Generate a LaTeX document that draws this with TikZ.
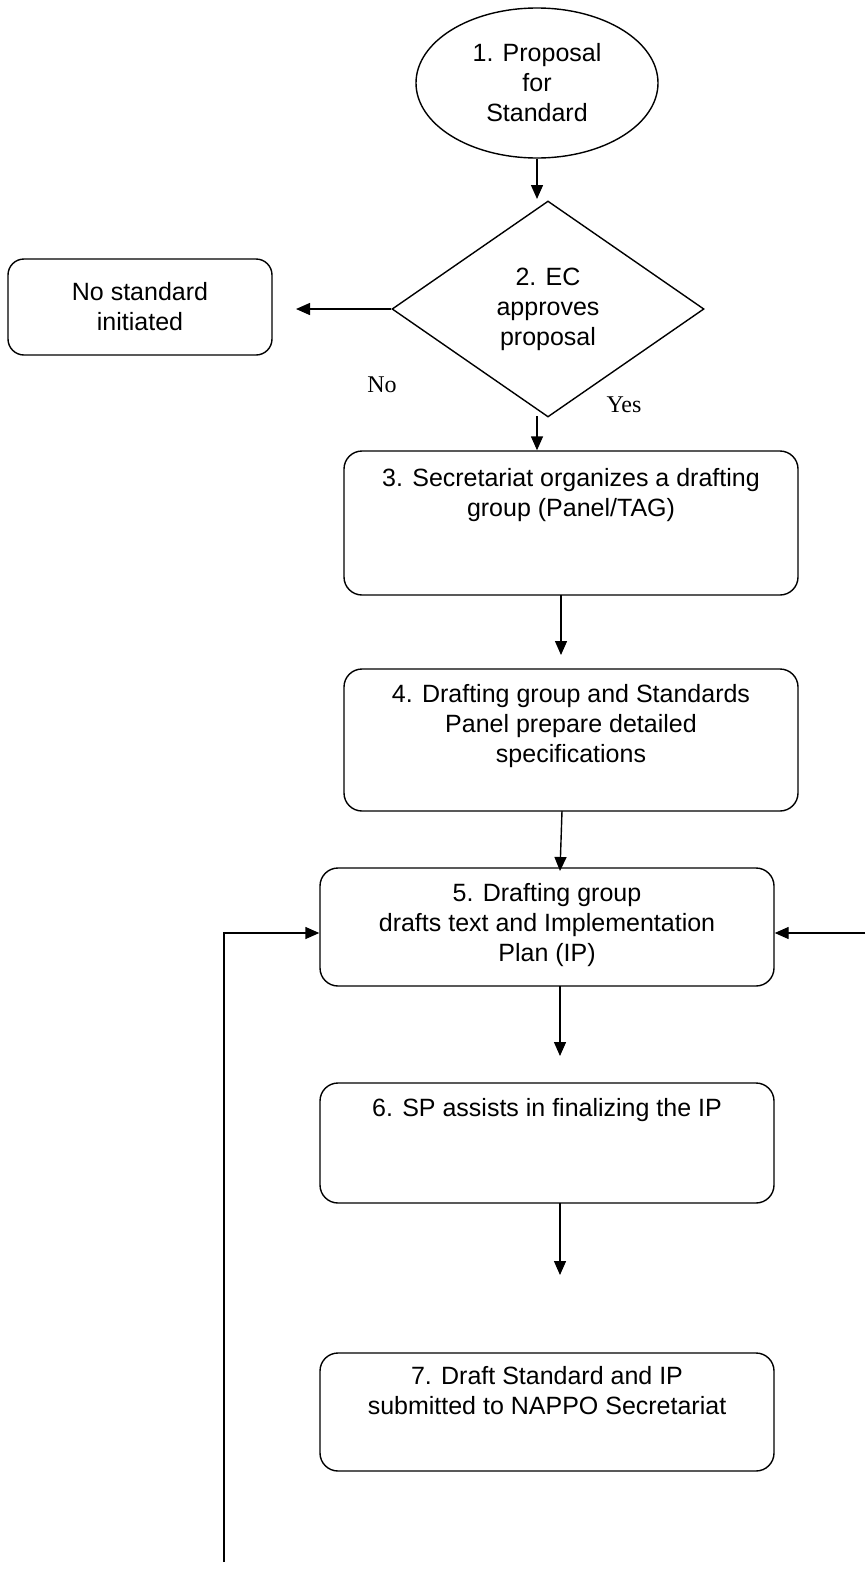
\documentclass[tikz,border=0pt]{standalone}
\usepackage{fontspec}
\setmainfont{Liberation Sans}
\newfontfamily\seriffont{Liberation Serif}
\usetikzlibrary{shapes.geometric,arrows.meta}
\begin{document}
\begin{tikzpicture}[x=1pt,y=1pt,
  every node/.style={font=\fontsize{25}{30}\selectfont},
  box/.style={draw, line width=1.4pt, rounded corners=18pt, minimum width=454pt, inner sep=0pt},
  lbl/.style={align=center, inner sep=0pt, anchor=north},
  arr/.style={line width=1.4pt, -{Triangle[length=14pt,width=12pt]}},
  yn/.style={font=\seriffont\fontsize{24}{28}\selectfont, inner sep=0pt}
]
\useasboundingbox (0,0) rectangle (865,-1577);
\node[draw, ellipse, line width=1.4pt, minimum width=242pt, minimum height=150pt, inner sep=0pt, align=center] (e) at (537,-83) {1. Proposal\\for\\Standard};
\node[draw, diamond, line width=1.4pt, minimum width=312pt, minimum height=216pt, inner sep=0pt, align=center] (d) at (548,-309) {2. EC\\approves\\proposal};
\node[box, minimum width=264pt, minimum height=96pt, align=center, rounded corners=16pt] (n) at (140,-307) {No standard\\initiated};
\node[box, minimum height=144pt] (b3) at (571,-523) {};
\node[box, minimum height=142pt] (b4) at (571,-740) {};
\node[box, minimum height=118pt] (b5) at (547,-927) {};
\node[box, minimum height=120pt] (b6) at (547,-1143) {};
\node[box, minimum height=118pt] (b7) at (547,-1412) {};
\node[lbl] (t3) at ([yshift=-18pt]b3.north) {3. Secretariat organizes a drafting\\group (Panel/TAG)};
\node[lbl] (t4) at ([yshift=-16pt]b4.north) {4. Drafting group and Standards\\Panel prepare detailed\\specifications};
\node[lbl] (t5) at ([yshift=-16pt]b5.north) {5. Drafting group\\drafts text and Implementation\\Plan (IP)};
\node[lbl] (t6) at ([yshift=-16pt]b6.north) {6. SP assists in finalizing the IP};
\node[lbl] (t7) at ([yshift=-14pt]b7.north) {7. Draft Standard and IP\\submitted to NAPPO Secretariat};
\node[yn] (no) at (382,-385) {No};
\node[yn] (yes) at (624,-405) {Yes};
% connector end points
\coordinate (c12) at (537,-199);
\coordinate (cn) at (296,-309);
\coordinate (c23a) at (537,-416);
\coordinate (c34a) at (561,-595);
\coordinate (c34b) at (561,-655);
\coordinate (c45a) at (562,-811);
\coordinate (c45b) at (560,-871);
\coordinate (c56a) at (560,-986);
\coordinate (c56b) at (560,-1056);
\coordinate (c67a) at (560,-1203);
\coordinate (c67b) at (560,-1275);
\coordinate (lb) at (224,-1562);
\coordinate (lt) at (224,-933);
\coordinate (rs) at (865,-933);
\draw[arr] (e.south) -- (c12);
\draw[arr] (d.west) -- (cn);
\draw[arr] (c23a) -- (c23a |- b3.north);
\draw[arr] (c34a) -- (c34b);
\draw[arr] (c45a) -- (c45b);
\draw[arr] (c56a) -- (c56b);
\draw[arr] (c67a) -- (c67b);
\draw[arr] (lb) -- (lt) -- (lt -| b5.west);
\draw[arr] (rs) -- (rs -| b5.east);
\end{tikzpicture}
\end{document}
